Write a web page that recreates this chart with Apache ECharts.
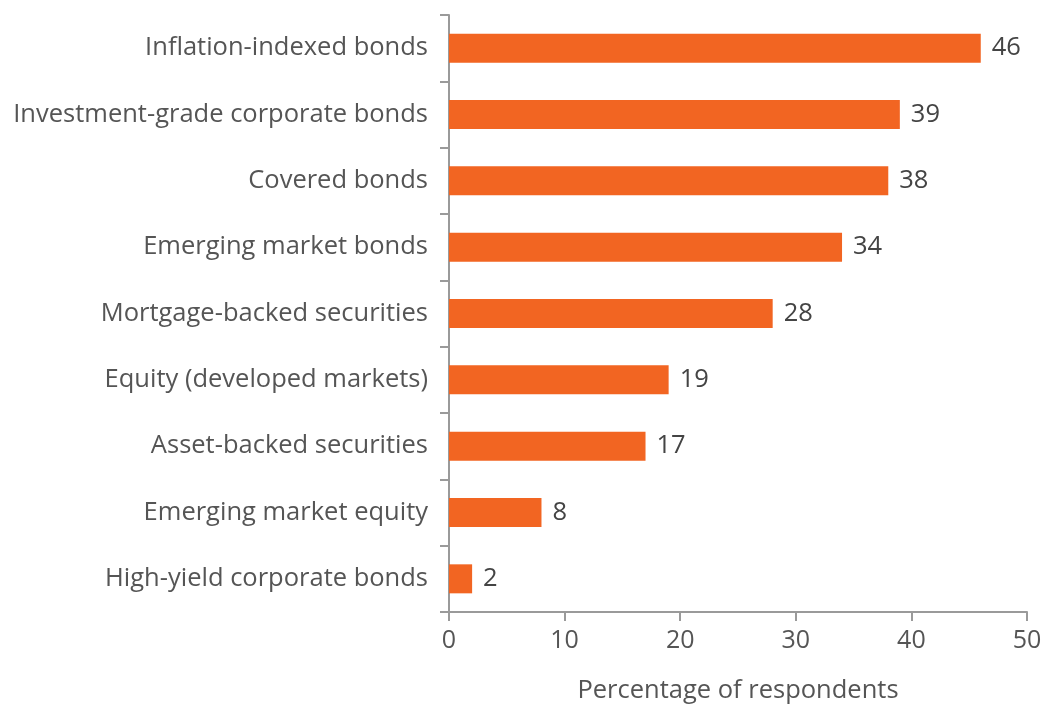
<!DOCTYPE html>
<html>
<head>
<meta charset="utf-8">
<script src="https://cdn.jsdelivr.net/npm/echarts@6/dist/echarts.min.js"></script>
<style>
  html, body { margin: 0; padding: 0; background: #fff; }
  #chart { width: 1051px; height: 713px; }
</style>
</head>
<body>
<div id="chart"></div>
<script>
// Asset classes, listed bottom-to-top as the category axis draws them
const categories = [
  'High-yield corporate bonds',
  'Emerging market equity',
  'Asset-backed securities',
  'Equity (developed markets)',
  'Mortgage-backed securities',
  'Emerging market bonds',
  'Covered bonds',
  'Investment-grade corporate bonds',
  'Inflation-indexed bonds'
];
// Percentage of respondents for each asset class
const values = [2, 8, 17, 19, 28, 34, 38, 39, 46];
const xTicks = [0, 10, 20, 30, 40, 50];

const FONT = '"Open Sans", "Noto Sans", sans-serif';
const TEXT = '#555555';
const AXIS = '#9a9a9a';

const chart = echarts.init(document.getElementById('chart'));
chart.setOption({
  animation: false,
  grid: { left: 449, right: 24, top: 15, bottom: 101, containLabel: false },
  xAxis: {
    type: 'value',
    min: xTicks[0],
    max: xTicks[xTicks.length - 1],
    interval: xTicks[1] - xTicks[0],
    name: 'Percentage of respondents',
    nameLocation: 'middle',
    nameGap: 66,
    nameTextStyle: { color: TEXT, fontSize: 25.5, fontFamily: FONT },
    axisLine: { show: true, lineStyle: { color: AXIS, width: 2 } },
    axisTick: { show: true, length: 9, lineStyle: { color: AXIS, width: 2 } },
    axisLabel: { color: TEXT, fontSize: 25, fontFamily: FONT, margin: 16 },
    splitLine: { show: false }
  },
  yAxis: {
    type: 'category',
    data: categories,
    axisLine: { show: true, lineStyle: { color: AXIS, width: 2 } },
    axisTick: { show: true, inside: false, length: 9, lineStyle: { color: AXIS, width: 2 } },
    axisLabel: { color: TEXT, fontSize: 25.5, fontFamily: FONT, margin: 21 }
  },
  series: [{
    type: 'bar',
    data: values,
    barWidth: 29,
    itemStyle: { color: '#F26522' },
    label: {
      show: true,
      position: 'right',
      distance: 11,
      color: '#444444',
      fontSize: 25.5,
      fontFamily: FONT
    }
  }]
});
</script>
</body>
</html>
